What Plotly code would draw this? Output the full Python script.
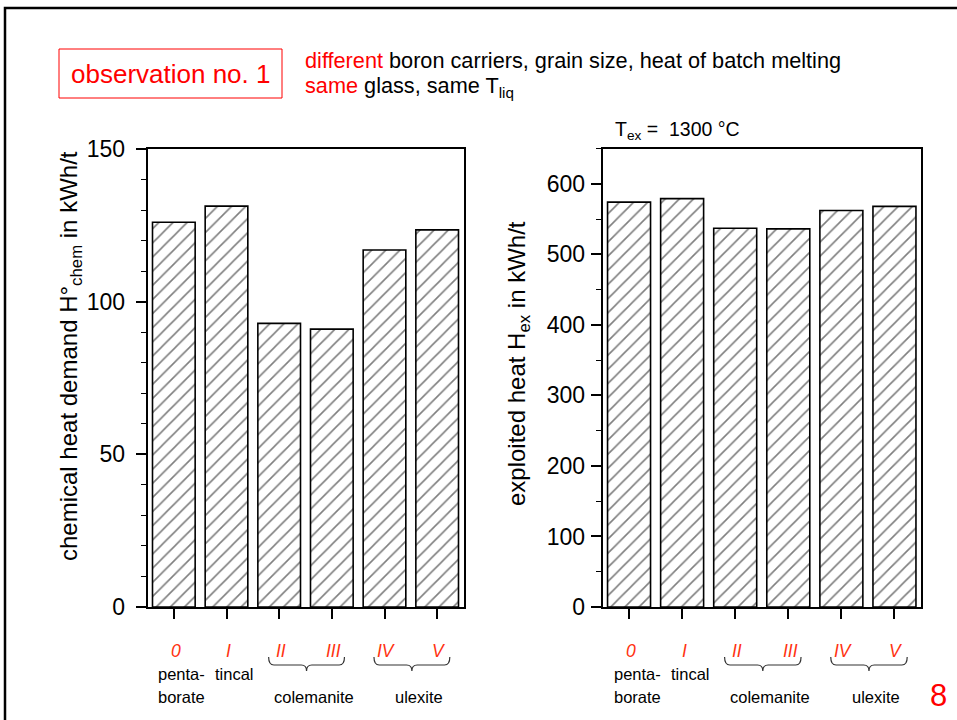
import plotly.graph_objects as go

# ---------------- data ----------------
categories = [0, 1, 2, 3, 4, 5]
roman_labels = ["0", "I", "II", "III", "IV", "V"]
h_chem = [126.0, 131.3, 92.9, 91.0, 116.9, 123.5]      # kWh/t
h_ex = [574, 579, 537, 536, 562, 568]                   # kWh/t
single_names = {0: ["penta-", "borate"], 1: ["tincal"]}
group_names = [("colemanite", 2, 3), ("ulexite", 4, 5)]
left_yticks = [0, 50, 100, 150]
right_yticks = [0, 100, 200, 300, 400, 500, 600]

W, H = 957, 720
FONT = "Liberation Sans"
RED = "#ff0000"
RED2 = "#ff3312"


def px(x):
    return x / W


def py(y):
    return 1 - y / H


fig = go.Figure()

bar_style = dict(
    marker=dict(
        color="white",
        line=dict(color="black", width=1.6),
        pattern=dict(shape="/", fgcolor="black", bgcolor="white", size=10, solidity=0.16),
    ),
    width=0.81,
    showlegend=False,
)
fig.add_trace(go.Bar(x=categories, y=h_chem, xaxis="x", yaxis="y", **bar_style))
fig.add_trace(go.Bar(x=categories, y=h_ex, xaxis="x2", yaxis="y2", **bar_style))

xaxis_common = dict(
    range=[-0.5, 5.5], tickvals=categories, showticklabels=False,
    ticks="outside", ticklen=10, tickwidth=1.6, tickcolor="black",
    showline=True, mirror=True, linecolor="black", linewidth=1.6,
    showgrid=False, zeroline=False, automargin=False,
)
yaxis_common = dict(
    ticks="outside", ticklen=10, tickwidth=1.6, tickcolor="black",
    showline=True, mirror=True, linecolor="black", linewidth=1.6,
    showgrid=False, zeroline=False, automargin=False,
    tickfont=dict(family=FONT, size=23, color="black"),
)

fig.update_layout(
    width=W, height=H, autosize=False,
    margin=dict(l=0, r=0, t=0, b=0, pad=0),
    paper_bgcolor="white", plot_bgcolor="white",
    font=dict(family=FONT, color="black"),
    xaxis=dict(domain=[px(147.5), px(463.5)], anchor="y", **xaxis_common),
    yaxis=dict(domain=[py(607), py(149)], anchor="x", range=[0, 150],
               tickvals=left_yticks, ticklabelstandoff=6,
               minor=dict(dtick=10, ticks="outside", ticklen=5, tickwidth=1.3, tickcolor="black"),
               **yaxis_common),
    xaxis2=dict(domain=[px(602.5), px(921)], anchor="y2", **xaxis_common),
    yaxis2=dict(domain=[py(607), py(148.5)], anchor="x2", range=[0, 650],
                tickvals=right_yticks, ticklabelstandoff=1,
                minor=dict(dtick=50, ticks="outside", ticklen=5, tickwidth=1.3, tickcolor="black"),
                **yaxis_common),
)

ann = []
shapes = []

# page frame
shapes.append(dict(type="rect", xref="paper", yref="paper",
                   x0=px(5), x1=1.2, y0=py(8), y1=-0.2,
                   line=dict(color="black", width=2.5)))
# observation box
shapes.append(dict(type="rect", xref="paper", yref="paper",
                   x0=px(59), x1=px(282), y0=py(49), y1=py(98),
                   line=dict(color=RED, width=1)))
ann.append(dict(text="observation no. 1", xref="paper", yref="paper",
                x=px(170.5), y=py(74), xanchor="center", yanchor="middle", showarrow=False,
                font=dict(family=FONT, size=26, color=RED)))
ann.append(dict(text="<span style='color:%s'>different</span> boron carriers, grain size, heat of batch melting" % RED,
                xref="paper", yref="paper", x=px(303), y=py(60), xanchor="left", yanchor="middle",
                showarrow=False, font=dict(family=FONT, size=21.7, color="black")))
ann.append(dict(text="<span style='color:%s'>same</span> glass, same T<sub>liq</sub>" % RED,
                xref="paper", yref="paper", x=px(303), y=py(87), xanchor="left", yanchor="middle",
                showarrow=False, font=dict(family=FONT, size=21.7, color="black")))
ann.append(dict(text="T<sub>ex</sub> =  1300 °C",
                xref="paper", yref="paper", x=px(613), y=py(130), xanchor="left", yanchor="middle",
                showarrow=False, font=dict(family=FONT, size=19.5, color="black")))
ann.append(dict(text="8", xref="paper", yref="paper", x=px(938), y=py(695),
                xanchor="center", yanchor="middle",
                showarrow=False, font=dict(family=FONT, size=31, color=RED)))

# axis titles
ann.append(dict(text="chemical heat demand H°<sub>chem</sub> in kWh/t", textangle=-90,
                xref="paper", yref="paper", x=px(70), y=py(356), showarrow=False,
                xanchor="center", yanchor="middle",
                font=dict(family=FONT, size=24, color="black")))
ann.append(dict(text="exploited heat H<sub>ex</sub> in kWh/t", textangle=-90,
                xref="paper", yref="paper", x=px(518), y=py(364), showarrow=False,
                xanchor="center", yanchor="middle",
                font=dict(family=FONT, size=24, color="black")))

# category labels below each chart
for xr in ["x", "x2"]:
    for c, lab in zip(categories, roman_labels):
        ann.append(dict(text="<i>%s</i>" % lab, xref=xr, yref="paper", x=c, y=py(651),
                        xshift=2, showarrow=False, xanchor="center", yanchor="middle",
                        font=dict(family=FONT, size=17.5, color=RED2)))
    for c, lines in single_names.items():
        for i, line in enumerate(lines):
            ann.append(dict(text=line, xref=xr, yref="paper", x=c, y=py(674 + 23 * i),
                            xshift=8, showarrow=False, xanchor="center", yanchor="middle",
                            font=dict(family=FONT, size=16.5, color="black")))
    for name, a, b in group_names:
        ann.append(dict(text=name, xref=xr, yref="paper", x=(a + b) / 2, y=py(697),
                        xshift=8, showarrow=False, xanchor="center", yanchor="middle",
                        font=dict(family=FONT, size=16.5, color="black")))
        x0, x1 = a - 0.2, b + 0.24
        xm = (x0 + x1) / 2
        yt, ym, yb = py(657), py(665), py(671)
        d = 0.1
        path = (f"M {x0},{yt} Q {x0},{ym} {x0 + d},{ym} L {xm - d},{ym} "
                f"Q {xm},{ym} {xm},{yb} Q {xm},{ym} {xm + d},{ym} L {x1 - d},{ym} "
                f"Q {x1},{ym} {x1},{yt}")
        shapes.append(dict(type="path", xref=xr, yref="paper", path=path,
                           line=dict(color="#333", width=1.2)))

fig.update_layout(annotations=ann, shapes=shapes)
fig.write_html("out.html")
